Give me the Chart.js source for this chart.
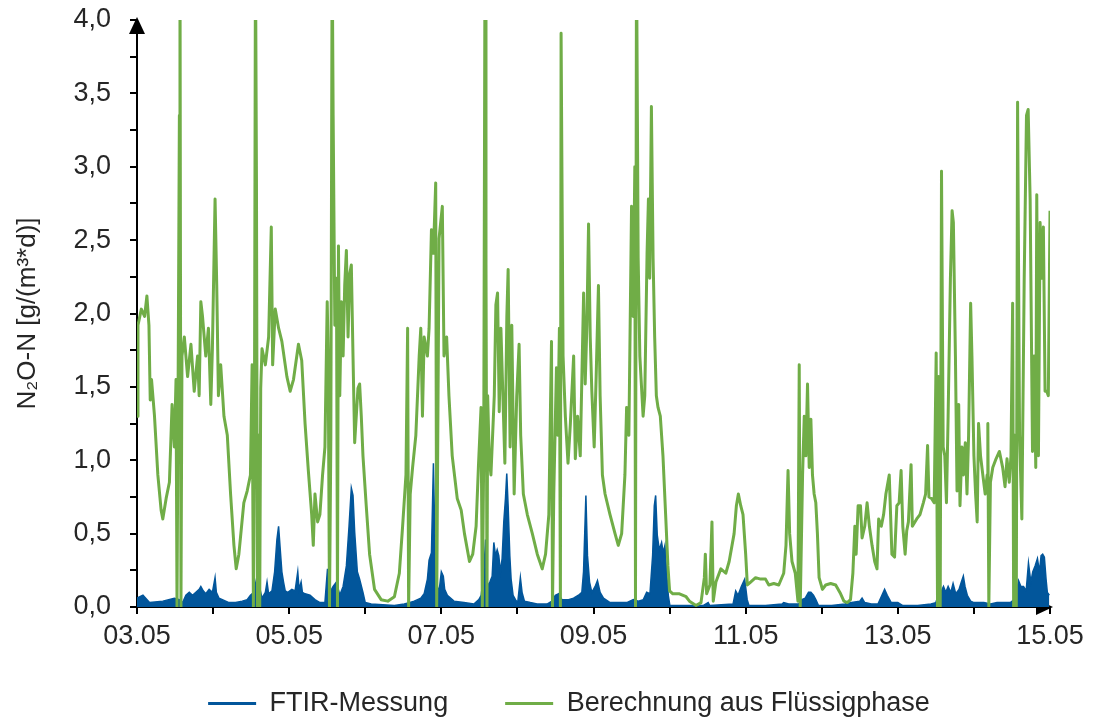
<!DOCTYPE html>
<html>
<head>
<meta charset="utf-8">
<script src="https://cdn.jsdelivr.net/npm/chart.js@4.4.1/dist/chart.umd.min.js"></script>
<style>
  html, body { margin: 0; padding: 0; background: #fff; }
</style>
</head>
<body>
<canvas id="chart" width="1096" height="718"></canvas>
<script>
// x = days after 03.05 00:00
const dateLabels = ['03.05', '05.05', '07.05', '09.05', '11.05', '13.05', '15.05'];
const yLabels = ['0,0', '0,5', '1,0', '1,5', '2,0', '2,5', '3,0', '3,5', '4,0'];

const ftirDays = [
  0.000, 0.078, 0.165, 0.339, 0.491, 0.557, 0.600, 0.643, 0.687, 0.730, 0.774, 0.817, 0.839, 0.870, 0.904, 0.948,
  0.991, 1.026, 1.043, 1.078, 1.122, 1.209, 1.296, 1.383, 1.448, 1.491, 1.535, 1.578, 1.609, 1.643, 1.687, 1.709,
  1.730, 1.774, 1.809, 1.839, 1.861, 1.883, 1.904, 1.926, 1.948, 1.983, 2.035, 2.078, 2.113, 2.130, 2.157, 2.174,
  2.209, 2.274, 2.339, 2.404, 2.470, 2.504, 2.535, 2.578, 2.622, 2.665, 2.709, 2.752, 2.787, 2.817, 2.839, 2.861,
  2.896, 2.926, 2.970, 3.000, 3.078, 3.383, 3.513, 3.578, 3.643, 3.687, 3.730, 3.774, 3.817, 3.839, 3.870, 3.896,
  3.913, 3.948, 3.969, 4.000, 4.026, 4.044, 4.079, 4.166, 4.297, 4.428, 4.493, 4.524, 4.559, 4.581, 4.603, 4.638,
  4.668, 4.690, 4.712, 4.734, 4.755, 4.777, 4.799, 4.821, 4.843, 4.860, 4.878, 4.900, 4.917, 4.943, 4.974, 5.004,
  5.039, 5.061, 5.092, 5.170, 5.258, 5.389, 5.454, 5.498, 5.541, 5.585, 5.672, 5.738, 5.803, 5.847, 5.869, 5.900,
  5.921, 5.948, 5.978, 6.022, 6.052, 6.087, 6.131, 6.218, 6.328, 6.437, 6.524, 6.590, 6.655, 6.699, 6.742, 6.777,
  6.799, 6.817, 6.838, 6.865, 6.895, 6.917, 6.939, 6.961, 6.983, 7.004, 7.441, 7.507, 7.528, 7.834, 7.869, 7.900,
  7.943, 7.987, 8.020, 8.043, 8.261, 8.478, 8.500, 8.565, 8.696, 8.739, 8.783, 8.826, 8.857, 8.891, 8.922, 8.957,
  9.130, 9.304, 9.391, 9.500, 9.530, 9.565, 9.652, 9.739, 9.791, 9.826, 9.861, 9.913, 10.000, 10.065, 10.261, 10.435,
  10.500, 10.530, 10.565, 10.600, 10.630, 10.661, 10.696, 10.726, 10.761, 10.804, 10.835, 10.861, 10.883, 10.913, 10.957, 11.000,
  11.130, 11.217, 11.304, 11.391, 11.478, 11.530, 11.557, 11.587, 11.617, 11.652, 11.687, 11.717, 11.748, 11.774, 11.804, 11.835,
  11.861, 11.883, 11.904, 11.926, 11.948, 11.965, 11.991
];
const ftirValues = [
  0.06, 0.08, 0.03, 0.04, 0.06, 0.05, 0.03, 0.08, 0.10, 0.08, 0.10, 0.12, 0.14, 0.11, 0.09, 0.12,
  0.10, 0.20, 0.10, 0.06, 0.05, 0.03, 0.03, 0.04, 0.05, 0.08, 0.10, 0.21, 0.14, 0.06, 0.10, 0.17,
  0.09, 0.11, 0.24, 0.46, 0.55, 0.39, 0.24, 0.17, 0.11, 0.10, 0.12, 0.11, 0.24, 0.12, 0.17, 0.10,
  0.09, 0.08, 0.05, 0.03, 0.03, 0.26, 0.10, 0.14, 0.17, 0.08, 0.14, 0.28, 0.55, 0.81, 0.76, 0.51,
  0.24, 0.19, 0.10, 0.03, 0.02, 0.01, 0.02, 0.03, 0.04, 0.05, 0.06, 0.09, 0.19, 0.32, 0.37, 0.98,
  0.53, 0.14, 0.10, 0.24, 0.21, 0.12, 0.08, 0.04, 0.03, 0.02, 0.05, 0.08, 0.24, 0.46, 0.14, 0.17,
  0.21, 0.44, 0.35, 0.39, 0.35, 0.24, 0.33, 0.58, 0.74, 0.91, 0.69, 0.35, 0.19, 0.08, 0.05, 0.03,
  0.20, 0.10, 0.04, 0.03, 0.02, 0.02, 0.04, 0.08, 0.09, 0.05, 0.05, 0.06, 0.08, 0.10, 0.24, 0.76,
  0.35, 0.17, 0.10, 0.14, 0.18, 0.10, 0.06, 0.03, 0.03, 0.03, 0.05, 0.04, 0.05, 0.10, 0.09, 0.35,
  0.69, 0.76, 0.49, 0.39, 0.44, 0.37, 0.42, 0.24, 0.08, 0.01, 0.01, 0.03, 0.01, 0.02, 0.11, 0.08,
  0.14, 0.19, 0.05, 0.01, 0.01, 0.02, 0.03, 0.02, 0.02, 0.05, 0.06, 0.10, 0.10, 0.08, 0.05, 0.01,
  0.01, 0.02, 0.03, 0.04, 0.06, 0.03, 0.02, 0.02, 0.08, 0.12, 0.08, 0.03, 0.03, 0.01, 0.01, 0.02,
  0.03, 0.08, 0.10, 0.14, 0.10, 0.14, 0.10, 0.16, 0.09, 0.12, 0.17, 0.21, 0.14, 0.08, 0.04, 0.03,
  0.03, 0.02, 0.03, 0.03, 0.03, 0.05, 0.10, 0.18, 0.14, 0.14, 0.11, 0.30, 0.17, 0.24, 0.28, 0.33,
  0.24, 0.35, 0.36, 0.34, 0.19, 0.10, 0.08
];

const calcDays = [
  0.000, 0.013, 0.057, 0.100, 0.130, 0.157, 0.174, 0.191, 0.230, 0.274, 0.317, 0.339, 0.383, 0.426, 0.461, 0.491,
  0.513, 0.526, 0.543, 0.557, 0.565, 0.578, 0.591, 0.622, 0.665, 0.709, 0.752, 0.796, 0.817, 0.839, 0.861, 0.904,
  0.939, 0.970, 0.991, 1.026, 1.048, 1.070, 1.100, 1.143, 1.187, 1.230, 1.274, 1.304, 1.339, 1.404, 1.448, 1.491,
  1.513, 1.530, 1.543, 1.557, 1.570, 1.583, 1.600, 1.613, 1.626, 1.643, 1.687, 1.730, 1.765, 1.783, 1.817, 1.861,
  1.904, 1.970, 2.013, 2.057, 2.122, 2.165, 2.209, 2.252, 2.296, 2.317, 2.339, 2.374, 2.404, 2.439, 2.470, 2.500,
  2.513, 2.530, 2.548, 2.565, 2.578, 2.600, 2.622, 2.635, 2.648, 2.665, 2.687, 2.709, 2.730, 2.752, 2.774, 2.796,
  2.817, 2.839, 2.861, 2.904, 2.926, 2.948, 2.970, 3.013, 3.057, 3.122, 3.209, 3.296, 3.383, 3.448, 3.491, 3.535,
  3.557, 3.570, 3.591, 3.622, 3.665, 3.709, 3.730, 3.752, 3.774, 3.817, 3.839, 3.870, 3.896, 3.926, 3.939, 3.970,
  4.013, 4.035, 4.070, 4.100, 4.143, 4.209, 4.261, 4.304, 4.370, 4.413, 4.457, 4.487, 4.522, 4.539, 4.557, 4.574,
  4.587, 4.600, 4.609, 4.630, 4.652, 4.696, 4.717, 4.739, 4.761, 4.783, 4.817, 4.835, 4.861, 4.878, 4.904, 4.926,
  4.957, 4.991, 5.022, 5.043, 5.078, 5.130, 5.196, 5.261, 5.326, 5.370, 5.413, 5.448, 5.461, 5.478, 5.513, 5.530,
  5.552, 5.565, 5.574, 5.600, 5.630, 5.665, 5.696, 5.739, 5.761, 5.791, 5.826, 5.870, 5.891, 5.913, 5.935, 5.957,
  5.978, 6.009, 6.035, 6.065, 6.087, 6.117, 6.152, 6.217, 6.283, 6.326, 6.370, 6.413, 6.435, 6.465, 6.500, 6.522,
  6.543, 6.552, 6.565, 6.587, 6.609, 6.652, 6.674, 6.704, 6.722, 6.739, 6.761, 6.783, 6.804, 6.826, 6.848, 6.878,
  6.913, 6.948, 6.978, 7.000, 7.043, 7.130, 7.217, 7.261, 7.348, 7.413, 7.457, 7.470, 7.487, 7.530, 7.557, 7.574,
  7.609, 7.674, 7.739, 7.783, 7.848, 7.878, 7.904, 7.935, 7.965, 8.000, 8.022, 8.065, 8.130, 8.196, 8.261, 8.304,
  8.370, 8.435, 8.500, 8.530, 8.557, 8.578, 8.609, 8.652, 8.687, 8.704, 8.717, 8.748, 8.770, 8.791, 8.813, 8.835,
  8.857, 8.878, 8.900, 8.922, 8.943, 8.965, 9.009, 9.052, 9.117, 9.183, 9.248, 9.291, 9.335, 9.378, 9.409, 9.435,
  9.452, 9.478, 9.509, 9.530, 9.565, 9.596, 9.626, 9.661, 9.696, 9.726, 9.748, 9.783, 9.813, 9.843, 9.887, 9.922,
  9.957, 9.987, 10.017, 10.043, 10.065, 10.096, 10.117, 10.139, 10.174, 10.191, 10.248, 10.291, 10.335, 10.365, 10.391, 10.409,
  10.443, 10.478, 10.504, 10.522, 10.539, 10.557, 10.574, 10.596, 10.617, 10.639, 10.661, 10.691, 10.713, 10.730, 10.757, 10.778,
  10.800, 10.817, 10.843, 10.861, 10.887, 10.909, 10.930, 10.957, 10.974, 11.000, 11.022, 11.043, 11.061, 11.087, 11.117, 11.148,
  11.174, 11.183, 11.196, 11.217, 11.248, 11.291, 11.335, 11.378, 11.409, 11.435, 11.465, 11.487, 11.509, 11.522, 11.539, 11.557,
  11.574, 11.600, 11.630, 11.661, 11.691, 11.713, 11.739, 11.770, 11.791, 11.813, 11.826, 11.848, 11.870, 11.891, 11.913, 11.935,
  11.957, 11.978, 11.992, 12.000
];
const calcValues = [
  1.30, 1.92, 2.03, 1.98, 2.12, 1.92, 1.41, 1.55, 1.30, 0.90, 0.66, 0.60, 0.74, 0.85, 1.38, 1.09,
  1.55, 0.00, 1.79, 3.35, 4.50, 0.00, 1.71, 1.84, 1.57, 1.79, 1.47, 1.71, 1.44, 2.08, 1.98, 1.71,
  1.90, 1.38, 1.76, 2.78, 2.19, 1.44, 1.65, 1.30, 1.17, 0.77, 0.42, 0.26, 0.36, 0.71, 0.79, 0.90,
  1.65, 0.00, 1.09, 4.50, 2.92, 0.00, 1.17, 0.00, 1.49, 1.76, 1.65, 1.84, 2.59, 1.65, 2.03, 1.90,
  1.81, 1.57, 1.47, 1.55, 1.79, 1.68, 1.25, 0.93, 0.63, 0.42, 0.77, 0.58, 0.63, 0.90, 1.09, 2.08,
  1.71, 0.00, 1.17, 4.50, 3.35, 1.92, 2.24, 0.00, 2.46, 1.44, 2.08, 1.71, 2.19, 2.43, 1.84, 2.27,
  2.33, 1.71, 1.12, 1.49, 1.52, 1.30, 1.03, 0.69, 0.36, 0.12, 0.05, 0.04, 0.07, 0.23, 0.55, 0.90,
  1.90, 0.00, 0.77, 0.95, 1.17, 1.71, 1.90, 1.30, 1.84, 1.71, 1.90, 2.57, 2.41, 2.89, 0.00, 2.51,
  2.73, 1.71, 1.84, 1.44, 1.03, 0.74, 0.66, 0.50, 0.31, 0.36, 0.55, 0.95, 1.36, 0.00, 1.03, 4.50,
  2.35, 0.00, 1.44, 1.01, 0.90, 1.44, 2.06, 2.14, 1.33, 1.90, 1.30, 0.98, 1.98, 2.30, 1.09, 1.92,
  0.77, 1.44, 1.79, 1.17, 0.77, 0.63, 0.50, 0.36, 0.26, 0.36, 0.63, 1.81, 0.00, 0.77, 1.63, 1.17,
  1.90, 0.00, 3.91, 1.71, 1.30, 0.98, 1.25, 1.71, 1.01, 1.30, 1.03, 2.14, 1.52, 1.92, 2.61, 1.84,
  1.47, 1.09, 1.57, 2.19, 1.44, 0.90, 0.77, 0.63, 0.50, 0.42, 0.50, 0.90, 1.36, 1.17, 2.73, 1.98,
  3.00, 0.00, 4.50, 2.38, 1.71, 1.30, 1.44, 2.41, 2.78, 2.24, 3.41, 2.38, 1.84, 1.44, 1.36, 1.30,
  1.03, 0.63, 0.28, 0.11, 0.09, 0.09, 0.07, 0.04, 0.01, 0.03, 0.20, 0.36, 0.09, 0.15, 0.58, 0.04,
  0.17, 0.26, 0.23, 0.31, 0.50, 0.69, 0.77, 0.69, 0.63, 0.36, 0.15, 0.17, 0.20, 0.19, 0.19, 0.15,
  0.16, 0.15, 0.23, 0.42, 0.93, 0.50, 0.31, 0.23, 0.04, 1.65, 0.00, 0.90, 1.30, 1.03, 1.52, 0.95,
  1.28, 0.90, 0.77, 0.71, 0.50, 0.20, 0.12, 0.15, 0.16, 0.15, 0.09, 0.04, 0.03, 0.05, 0.23, 0.55,
  0.36, 0.69, 0.69, 0.47, 0.55, 0.71, 0.55, 0.42, 0.31, 0.26, 0.60, 0.55, 0.63, 0.77, 0.90, 0.36,
  0.34, 0.69, 0.71, 0.93, 0.55, 0.36, 0.52, 0.58, 0.97, 0.55, 0.60, 0.63, 0.71, 0.77, 1.10, 0.75,
  0.74, 0.71, 1.73, 0.00, 1.57, 0.00, 2.97, 1.09, 1.03, 0.71, 1.30, 2.24, 2.70, 2.62, 1.71, 0.79,
  1.38, 0.69, 1.09, 0.90, 1.12, 0.77, 1.17, 2.07, 1.71, 1.03, 0.77, 0.58, 1.25, 1.03, 0.90, 0.77,
  0.90, 1.25, 0.00, 0.85, 0.95, 1.01, 1.06, 0.95, 0.82, 1.01, 0.85, 1.03, 2.07, 0.00, 1.17, 0.00,
  3.44, 1.17, 0.60, 2.24, 3.35, 3.39, 2.78, 1.06, 1.71, 0.95, 2.81, 1.03, 2.62, 2.24, 2.59, 1.47,
  1.47, 1.44, 2.24, 2.70
];

function toPoints(xs, ys) {
  return xs.map((x, i) => ({ x: x, y: ys[i] }));
}

const axisArrows = {
  id: 'axisArrows',
  beforeDatasetsDraw(chart) {
    const { ctx, chartArea: a } = chart;
    ctx.save();
    ctx.fillStyle = '#000';
    ctx.beginPath();
    ctx.moveTo(a.left, a.top - 3);
    ctx.lineTo(a.left - 8, a.top + 14);
    ctx.lineTo(a.left + 8, a.top + 14);
    ctx.closePath();
    ctx.fill();
    ctx.beginPath();
    ctx.moveTo(a.right + 3, a.bottom);
    ctx.lineTo(a.right - 14, a.bottom - 8);
    ctx.lineTo(a.right - 14, a.bottom + 8);
    ctx.closePath();
    ctx.fill();
    ctx.restore();
  }
};

// move the legend a bit right and up (its padding also sets the gap between items)
const legendShift = {
  id: 'legendShift',
  afterLayout(chart) {
    const lg = chart.legend;
    lg.left += 44; lg.right += 44;
    lg.top -= 24;
  }
};

Chart.defaults.font.family = "'Liberation Sans', Arial, sans-serif";
Chart.defaults.color = '#262626';

new Chart(document.getElementById('chart'), {
  type: 'line',
  data: {
    datasets: [
      {
        label: 'FTIR-Messung',
        data: toPoints(ftirDays, ftirValues),
        borderColor: '#02569b',
        backgroundColor: '#02569b',
        borderWidth: 1.5,
        fill: 'origin',
        pointRadius: 0,
        tension: 0,
        order: 2
      },
      {
        label: 'Berechnung aus Flüssigphase',
        data: toPoints(calcDays, calcValues),
        borderColor: '#70ad47',
        backgroundColor: '#70ad47',
        borderWidth: 3,
        borderJoinStyle: 'round',
        fill: false,
        pointRadius: 0,
        tension: 0,
        order: 1
      }
    ]
  },
  options: {
    responsive: false,
    animation: false,
    layout: { padding: { top: 20, right: 46, left: 0, bottom: 0 } },
    plugins: {
      tooltip: { enabled: false },
      legend: {
        position: 'bottom',
        maxHeight: 61,
        labels: {
          usePointStyle: true,
          pointStyle: 'line',
          pointStyleWidth: 48,
          padding: 57,
          color: '#262626',
          font: { size: 27 },
          sort: (a, b) => a.datasetIndex - b.datasetIndex,
          generateLabels(chart) {
            const items = Chart.defaults.plugins.legend.labels.generateLabels(chart);
            items.forEach(it => { it.lineWidth = 3; });
            return items;
          }
        }
      }
    },
    scales: {
      x: {
        type: 'linear',
        min: 0,
        max: 12,
        afterFit(scale) { scale.height = 50; },
        grid: { drawOnChartArea: false, drawTicks: true, tickLength: 7, color: '#000', lineWidth: 2 },
        border: { display: true, color: '#000', width: 2 },
        ticks: {
          stepSize: 1,
          autoSkip: false,
          maxRotation: 0,
          padding: 6,
          font: { size: 27 },
          callback: (v) => {
            const i = Math.round(v);
            return i % 2 === 0 ? dateLabels[i / 2] : '';
          }
        }
      },
      y: {
        min: 0,
        max: 4,
        afterFit(scale) {
          scale.width = 137;
          scale.paddingTop = 0;
          scale.paddingBottom = 0;
        },
        grid: { drawOnChartArea: false, drawTicks: true, tickLength: 7, color: '#000', lineWidth: 2 },
        border: { display: true, color: '#000', width: 2 },
        ticks: {
          stepSize: 0.25,
          autoSkip: false,
          padding: 19,
          font: { size: 27 },
          callback: (v) => {
            const i = Math.round(v * 4);
            return i % 2 === 0 ? yLabels[i / 2] : '';
          }
        },
        title: {
          display: true,
          text: 'N₂O-N [g/(m³*d)]',
          font: { size: 26 },
          color: '#262626',
          padding: { top: 12, bottom: 0 }
        }
      }
    }
  },
  plugins: [axisArrows, legendShift]
});
</script>
</body>
</html>
